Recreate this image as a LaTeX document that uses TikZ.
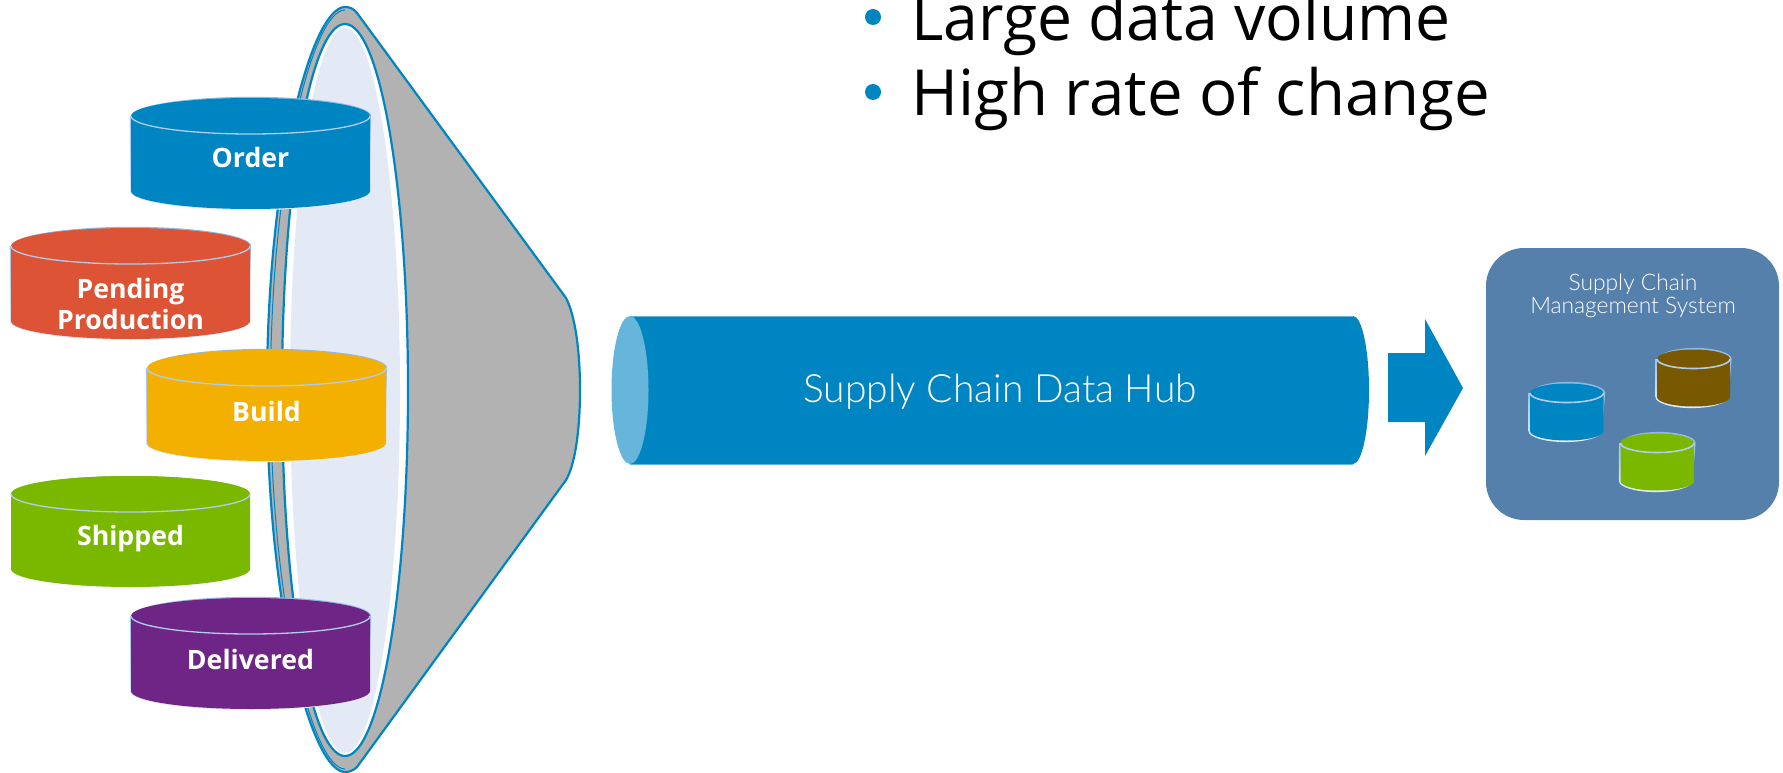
\documentclass[tikz,border=0pt]{standalone}
\usepackage{fontspec}
\setmainfont{Open Sans}
\newfontfamily\lightf{Lato}[UprightFont=* Light]
\newfontfamily\bodyf{Open Sans}
\definecolor{dellblue}{HTML}{0085C3}
\definecolor{paleblue}{HTML}{66B5DB}
\definecolor{coneGray}{HTML}{B2B2B2}
\definecolor{lens}{HTML}{E3EAF5}
\definecolor{redc}{HTML}{DD5335}
\definecolor{amber}{HTML}{F3B000}
\definecolor{leaf}{HTML}{7AB800}
\definecolor{plum}{HTML}{6E2585}
\definecolor{brownc}{HTML}{785800}
\definecolor{slate}{HTML}{5580AC}
\definecolor{rimA}{HTML}{8FB7E4}
\definecolor{rimB}{HTML}{E4EEF8}
\newcommand{\cylshape}[5]{% x1 x2 c e ry
  (#1,#3) -- (#1,#4) arc[start angle=180,end angle=0,x radius={(#2-#1)/2},y radius=#5] -- (#2,#3) arc[start angle=0,end angle=-180,x radius={(#2-#1)/2},y radius=#5] -- cycle}
\newcommand{\cylinderdb}[8]{% x1 x2 c e ry fill rimwidth rimtopcolor
  \shade[top color=#8,bottom color=rimB]
    \cylshape{#1-#7}{#2+#7}{#3}{#4}{#5+#7};
  \fill[#6] \cylshape{#1}{#2}{#3}{#4}{#5};
  \draw[rimA!70!white,line width={max(#7,1.3)*1pt}]
    (#1,#3) arc[start angle=180,end angle=0,x radius={(#2-#1)/2},y radius=#5];
}
\tikzset{
  cyltext/.style={text=white,align=center,font=\bodyf\bfseries\fontsize{26.7}{31.5}\selectfont,inner sep=0pt},
  lighttext/.style={text=white,align=center,inner sep=0pt},
  bigline/.style={anchor=base west,inner sep=0pt,font=\bodyf\fontsize{63.6}{63.6}\selectfont,text=black},
  bulletdot/.style={circle,fill=dellblue,minimum size=16pt,inner sep=0pt},
  funnelline/.style={draw=dellblue,line width=2.2pt,line join=round}
}
\begin{document}
\begin{tikzpicture}[x=1pt,y=-1pt]
\useasboundingbox (0,0) rectangle (1783,773);
\clip (0,0) rectangle (1783,773);
% funnel silhouette
\filldraw[fill=coneGray,funnelline]
  (267,390) .. controls (267,170) and (312,7) .. (345,7)
  .. controls (350,7) and (354,9) .. (357,13)
  -- (566,298) .. controls (575,315) and (580,350) .. (580,390)
  .. controls (580,430) and (575,465) .. (566,480)
  -- (357,767) .. controls (354,770) and (350,772) .. (345,772)
  .. controls (312,772) and (267,610) .. (267,390) -- cycle;
\draw[dellblue,line width=1pt]
  (345,10) .. controls (313,10) and (270.5,172) .. (270.5,390)
  .. controls (270.5,608) and (313,769) .. (345,769);
\filldraw[fill=white,funnelline] (345,390) ellipse[x radius=63,y radius=366];
\fill[lens] (345,390.5) ellipse[x radius=55,y radius=362.5];
% cylinders
\cylinderdb{131}{370}{116}{191}{18}{dellblue}{1.2}{rimA}
\node[cyltext] (order) at (250.5,157.5) {Order};
\cylinderdb{11}{250}{246}{321}{18}{redc}{1.2}{rimA}
\node[cyltext] (pending) at (130.5,304) {Pending\\Production};
\cylinderdb{147}{386}{368}{443}{18}{amber}{1.2}{rimA}
\node[cyltext] (build) at (266.5,411) {Build};
\cylinderdb{11}{250}{494}{569}{18}{leaf}{0}{leaf}
\node[cyltext] (shipped) at (130.5,538.5) {Shipped};
\cylinderdb{131}{370}{616}{691}{18}{plum}{1.2}{rimA}
\node[cyltext] (delivered) at (250.5,659) {Delivered};
% hub
\fill[dellblue] (630,316) -- (1353,316) arc[start angle=-90,end angle=90,x radius=16,y radius=74] -- (630,464) -- cycle;
\fill[paleblue] (630,390) ellipse[x radius=18.5,y radius=74];
\draw[paleblue,line width=.6pt] (630,316) -- (1353,316) (630,464) -- (1353,464);
\node[lighttext,font=\lightf\fontsize{39}{39}\selectfont] (hub) at (1000,392) {Supply Chain Data Hub};
% arrow
\fill[dellblue] (1388,353) -- (1425,353) -- (1425,319) -- (1463,388) -- (1425,456) -- (1425,422) -- (1388,422) -- cycle;
% system box
\fill[slate,rounded corners=38pt] (1486,248) rectangle (1779,520);
\node[lighttext,font=\lightf\fontsize{22.8}{22.5}\selectfont] (scm) at (1633,296) {Supply Chain\\Management System};
\cylinderdb{1530}{1603.5}{393}{431}{9.5}{dellblue}{1.6}{rimA}
\cylinderdb{1657}{1730}{359}{397}{9.5}{brownc}{1.6}{rimA}
\cylinderdb{1620.5}{1694}{443}{481}{9.5}{leaf}{1.6}{rimA}
% bullets
\node[bulletdot] (b1) at (873,17) {};
\node[bulletdot] (b2) at (873,92) {};
\node[bigline] (t1) at (911,41) {\scalebox{.981}[1]{Large data volume}};
\node[bigline] (t2) at (911,115.5) {High rate of change};
\end{tikzpicture}
\end{document}
